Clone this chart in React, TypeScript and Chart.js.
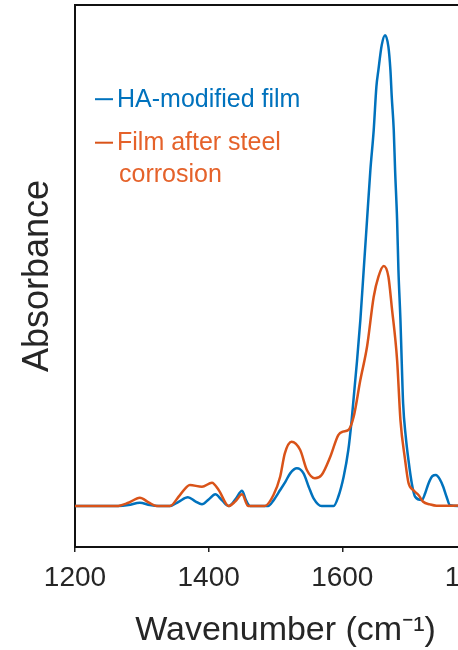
import { useEffect, useRef } from "react";
import { Chart, registerables } from "chart.js";

Chart.register(...registerables);

const FONT = "'Liberation Sans', Arial, Helvetica, sans-serif";

const xTicks = [1200, 1400, 1600, 1800];
const xTitle = "Wavenumber (cm⁻¹)";
const yTitle = "Absorbance";
const seriesNames: string[][] = [["HA-modified film"], ["Film after steel", "corrosion"]];
const seriesColors = ["#0072BD", "#D95319"];

// [wavenumber, absorbance]
const haFilm: [number, number][] = [
  [1200, 0], [1265, 0], [1280, 0.002], [1297, 0.007], [1312, 0.002], [1325, 0], [1342, 0],
  [1355, 0.009], [1369, 0.0185], [1380, 0.01], [1390, 0.0036], [1400, 0.014], [1410, 0.0248],
  [1420, 0.012], [1430, 0], [1440, 0.014], [1450, 0.0325], [1456, 0.012], [1462, 0], [1489, 0],
  [1497, 0.012], [1507, 0.034], [1515, 0.052], [1522, 0.0694], [1532, 0.08], [1542, 0.0694],
  [1550, 0.04], [1557, 0.0163], [1569, 0], [1587, 0], [1594, 0.0197], [1602, 0.0623],
  [1609, 0.1189], [1614, 0.1826], [1622, 0.3079], [1627, 0.3949], [1632, 0.501], [1637, 0.6072],
  [1642, 0.7134], [1647, 0.7983], [1651, 0.8902], [1654, 0.9257], [1659, 0.9788], [1664, 1.0],
  [1669, 0.9752], [1672, 0.9257], [1674, 0.869], [1677, 0.7983], [1679, 0.7134], [1682, 0.6072],
  [1684, 0.501], [1687, 0.3949], [1689, 0.303], [1691, 0.218], [1695, 0.147], [1699, 0.0977],
  [1704, 0.048], [1709, 0.0197], [1719, 0.0127], [1724, 0.027], [1729, 0.048], [1735, 0.0637],
  [1740, 0.0658], [1746, 0.0567], [1751, 0.041], [1756, 0.0197], [1761, 0.002], [1775, 0],
];

const corrodedFilm: [number, number][] = [
  [1200, 0], [1262, 0], [1280, 0.007], [1297, 0.0176], [1310, 0.008], [1322, 0], [1342, 0],
  [1357, 0.0234], [1372, 0.0446], [1390, 0.041], [1405, 0.0495], [1415, 0.034], [1430, 0],
  [1440, 0.01], [1450, 0.0248], [1459, 0], [1484, 0], [1497, 0.0234], [1507, 0.0622],
  [1514, 0.1119], [1524, 0.1365], [1537, 0.1189], [1547, 0.0764], [1559, 0.0588], [1569, 0.0658],
  [1582, 0.1047], [1594, 0.1507], [1601, 0.158], [1609, 0.1614], [1617, 0.1896], [1627, 0.2675],
  [1637, 0.3382], [1647, 0.4444], [1654, 0.4868], [1662, 0.5096], [1669, 0.4868], [1674, 0.4231],
  [1682, 0.31], [1687, 0.1826], [1694, 0.0977], [1699, 0.0495], [1706, 0.034], [1714, 0.0234],
  [1721, 0.0091], [1731, 0.0036], [1741, 0.0006], [1775, 0.001],
];

const inlineLegend = {
  id: "inlineLegend",
  afterDatasetsDraw(chart: any) {
    const ctx = chart.ctx as CanvasRenderingContext2D;
    const { left, top } = chart.chartArea;
    ctx.save();
    ctx.font = `25px ${FONT}`;
    ctx.textBaseline = "alphabetic";
    ctx.textAlign = "left";
    let baseline = top + 101.5;
    chart.data.datasets.forEach((ds: any, i: number) => {
      const lines = seriesNames[i];
      ctx.strokeStyle = ds.borderColor;
      ctx.fillStyle = i === 1 ? "#E5622A" : ds.borderColor;
      ctx.lineWidth = 2;
      ctx.beginPath();
      ctx.moveTo(left + 20, baseline - 7.3);
      ctx.lineTo(left + 38, baseline - 7.3);
      ctx.stroke();
      lines.forEach((ln, j) => ctx.fillText(ln, left + 42 + (j > 0 ? 2 : 0), baseline + j * 31.7));
      baseline += 43.5 + (lines.length - 1) * 31.7;
    });
    ctx.restore();
  },
};

export default function App() {
  const ref = useRef<HTMLCanvasElement | null>(null);
  useEffect(() => {
    if (!ref.current) return;
    const mk = (pts: [number, number][]) => pts.map(([x, y]) => ({ x, y }));
    const chart = new Chart(ref.current, {
      type: "line",
      data: {
        datasets: [
          {
            label: seriesNames[0].join(" "),
            data: mk(haFilm),
            borderColor: seriesColors[0],
            borderWidth: 2.5,
            pointRadius: 0,
            tension: 0.4,
            cubicInterpolationMode: "monotone",
            fill: false,
            order: 1,
          },
          {
            label: seriesNames[1].join(" "),
            data: mk(corrodedFilm),
            borderColor: seriesColors[1],
            borderWidth: 2.5,
            pointRadius: 0,
            tension: 0.4,
            cubicInterpolationMode: "monotone",
            fill: false,
            order: 0,
          },
        ],
      },
      options: {
        animation: false,
        responsive: true,
        maintainAspectRatio: false,
        layout: { padding: { left: 0, right: 4, top: 0, bottom: 0 } },
        plugins: { legend: { display: false }, tooltip: { enabled: false } },
        scales: {
          x: {
            type: "linear",
            position: "bottom",
            min: 1200,
            max: 1830,
            afterBuildTicks: (s: any) => {
              s.ticks = xTicks.map((v) => ({ value: v }));
            },
            afterFit: (s: any) => {
              s.height = 103;
              s.paddingLeft = 0;
              s.paddingRight = 0;
            },
            ticks: {
              font: { family: FONT, size: 28, lineHeight: 1.2 },
              color: "#262626",
              padding: 9,
              maxRotation: 0,
              autoSkip: false,
              callback: (v: any) => String(v),
            },
            grid: { display: true, drawOnChartArea: false, drawTicks: true, tickLength: 5, color: "#222", lineWidth: 1.5 },
            border: { display: true, color: "#111", width: 2 },
            title: {
              display: true,
              text: xTitle,
              font: { family: FONT, size: 34, lineHeight: 1 },
              color: "#262626",
              padding: { top: 0, bottom: 2 },
            },
          },
          x2: {
            type: "linear",
            position: "top",
            min: 1200,
            max: 1830,
            ticks: { display: false },
            grid: { display: false },
            border: { display: true, color: "#111", width: 2 },
            afterFit: (s: any) => {
              s.height = 5;
            },
          },
          y: {
            type: "linear",
            min: -0.087,
            max: 1.064,
            ticks: { display: false },
            grid: { display: false },
            border: { display: true, color: "#111", width: 2 },
            afterFit: (s: any) => {
              s.width = 75;
            },
            title: {
              display: true,
              text: yTitle,
              font: { family: FONT, size: 36, lineHeight: 1 },
              color: "#262626",
              padding: { top: 20, bottom: 0 },
            },
          },
        },
      } as any,
      plugins: [inlineLegend],
    });
    return () => chart.destroy();
  }, []);
  return (
    <div style={{ position: "fixed", left: 0, top: 0, width: 500, height: 650, background: "#fff" }}>
      <canvas ref={ref} />
    </div>
  );
}
